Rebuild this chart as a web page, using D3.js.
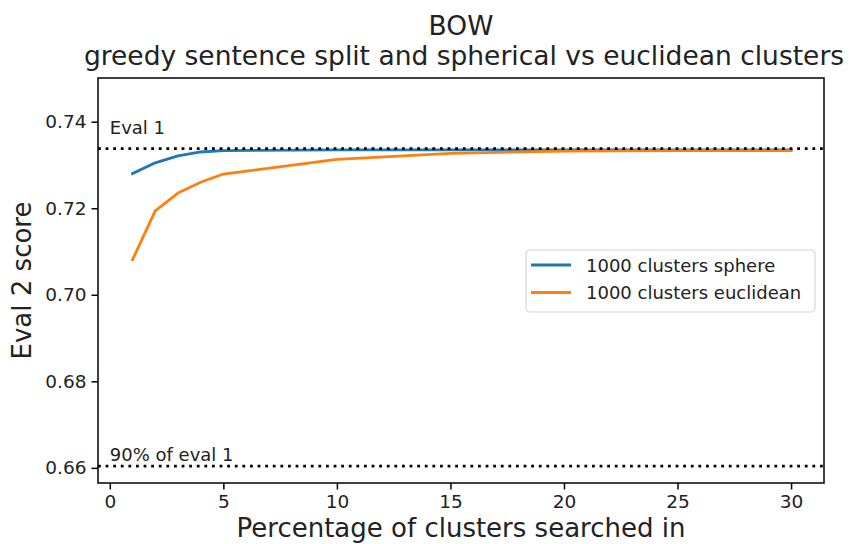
<!DOCTYPE html>
<html lang="en">
<head>
<meta charset="UTF-8">
<title>BOW greedy sentence split</title>
<script src="https://d3js.org/d3.v7.min.js"></script>
<style>
  body { margin: 0; background: #fff; }
  svg { font-family: "DejaVu Sans", sans-serif; }
</style>
</head>
<body>
<div id="chart"></div>
<script>
// data
const percents = [1, 2, 3, 4, 5, 10, 15, 20, 25, 30];
const sphereScores = [0.7280, 0.7305, 0.7321, 0.7330, 0.7333, 0.7335, 0.7335, 0.7335, 0.7335, 0.7335];
const euclideanScores = [0.7081, 0.7194, 0.7235, 0.7260, 0.7279, 0.7313, 0.7327, 0.7332, 0.7333, 0.7333];
const seriesNames = ["1000 clusters sphere", "1000 clusters euclidean"];
const xTicks = [0, 5, 10, 15, 20, 25, 30];
const yTicks = [0.66, 0.68, 0.70, 0.72, 0.74];
const eval1 = 0.7338;
const refLabels = ["Eval 1", "90% of eval 1"];

const W = 850, H = 544;
const margin = { top: 78, right: 26, bottom: 61, left: 98 };
const width = W - margin.left - margin.right;
const height = H - margin.top - margin.bottom;

const svg = d3.select("#chart").append("svg")
    .attr("width", W).attr("height", H);

const g = svg.append("g")
    .attr("transform", `translate(${margin.left},${margin.top})`);

const x = d3.scaleLinear().domain([-0.52, 31.45]).range([0, width]);
const y = d3.scaleLinear().domain([0.6565, 0.7501]).range([height, 0]);

// axes
const xAxis = g.append("g")
    .attr("transform", `translate(0,${height})`)
    .call(d3.axisBottom(x).tickValues(xTicks).tickSize(6.5).tickPadding(5).tickFormat(d3.format("d")));
const yAxis = g.append("g")
    .call(d3.axisLeft(y).tickValues(yTicks).tickSize(6.5).tickPadding(5).tickFormat(d3.format(".2f")));
[xAxis, yAxis].forEach(a => {
    a.select(".domain").remove();
    a.selectAll("line").attr("stroke", "#000").attr("stroke-width", 1.5);
    a.selectAll("text").attr("fill", "#222").style("font-size", "18.5px").style("font-family", "DejaVu Sans");
});

// lines
const colors = ["#1f77b4", "#ff7f0e"];
const line = d3.line().x((d, i) => x(percents[i])).y(d => y(d));
[sphereScores, euclideanScores].forEach((s, i) => {
    g.append("path").datum(s)
        .attr("fill", "none")
        .attr("stroke", colors[i])
        .attr("stroke-width", 2.8)
        .attr("stroke-linejoin", "round")
        .attr("stroke-linecap", "square")
        .attr("d", line);
});

// reference lines
const refs = [eval1, eval1 * 0.9];
const refOffsets = [0.0034, 0.0012];
refs.forEach((v, i) => {
    g.append("line")
        .attr("x1", 0).attr("x2", width)
        .attr("y1", y(v)).attr("y2", y(v))
        .attr("stroke", "#000")
        .attr("stroke-width", 2.8)
        .attr("stroke-dasharray", "2.8,4.8");
    g.append("text")
        .attr("x", x(0))
        .attr("y", y(v + refOffsets[i]))
        .attr("fill", "#222")
        .style("font-size", "18px")
        .text(refLabels[i]);
});

// frame
g.append("rect")
    .attr("width", width).attr("height", height)
    .attr("fill", "none").attr("stroke", "#000").attr("stroke-width", 1.5);

// legend
const leg = g.append("g").attr("transform", `translate(${526 - margin.left},${250 - margin.top})`);
leg.append("rect")
    .attr("width", 289).attr("height", 62).attr("rx", 4)
    .attr("fill", "#fff").attr("fill-opacity", 0.8)
    .attr("stroke", "#d6d6d6").attr("stroke-width", 1.2);
seriesNames.forEach((n, i) => {
    const yy = 15 + i * 27.5;
    leg.append("line")
        .attr("x1", 5).attr("x2", 45).attr("y1", yy).attr("y2", yy)
        .attr("stroke", colors[i]).attr("stroke-width", 2.8);
    leg.append("text")
        .attr("x", 60).attr("y", yy + 6.5)
        .attr("fill", "#222")
        .style("font-size", "18px")
        .text(n);
});

// titles and labels
const cx = margin.left + width / 2;
svg.append("text").attr("x", cx).attr("y", 35).attr("text-anchor", "middle")
    .attr("fill", "#222").style("font-size", "26.5px").text("BOW");
svg.append("text").attr("x", cx + 3).attr("y", 65).attr("text-anchor", "middle")
    .attr("fill", "#222").style("font-size", "26.5px").text("greedy sentence split and spherical vs euclidean clusters");
svg.append("text").attr("x", cx).attr("y", 537).attr("text-anchor", "middle")
    .attr("fill", "#222").style("font-size", "26px").text("Percentage of clusters searched in");
svg.append("text")
    .attr("transform", `translate(31,${margin.top + height / 2}) rotate(-90)`)
    .attr("text-anchor", "middle")
    .attr("fill", "#222").style("font-size", "26px").text("Eval 2 score");
</script>
</body>
</html>
